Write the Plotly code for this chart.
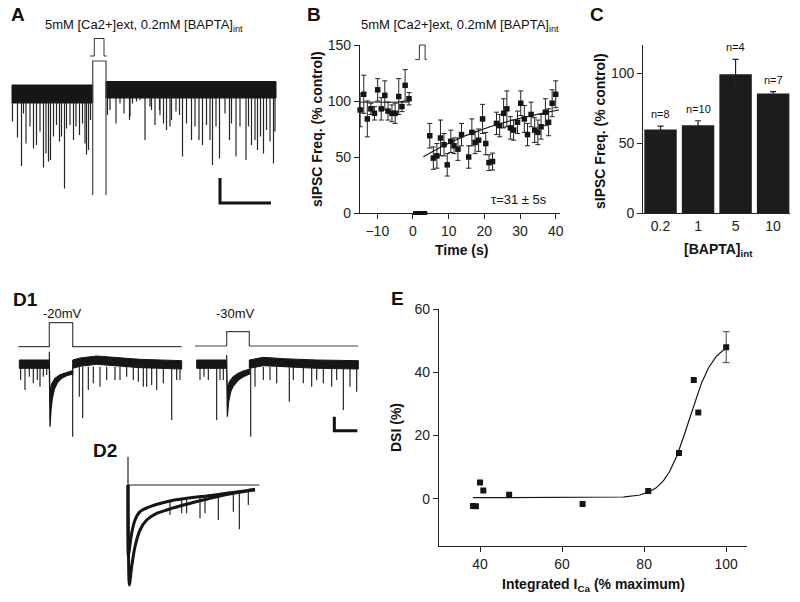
import numpy as np
import plotly.graph_objects as go

W, H = 800, 602
FONT = "Arial, Liberation Sans, sans-serif"
INK = "#151515"

# ---------------- Panel A : sIPSC trace (t in s, I in pA) ----------------
a_left_band_t = [-16.0, 0.14]
a_left_band_i = [10, -26]          # top, bottom of noise band
a_right_band_t = [2.8, 36.8]
a_right_band_i = [17, -16]
a_left_spike_t = [-15.9, -14.9, -14.1, -13.7, -13.2, -12.4, -11.7, -11.1, -10.4, -9.7,
                  -9.2, -8.7, -8.3, -7.7, -7.1, -6.5, -6.1, -5.5, -5.1, -4.4,
                  -3.7, -3.2, -2.5, -1.9, -1.4, -1.1, -0.7, -0.3]
a_left_spike_i = [-63, -95, -152, -47, -107, -73, -117, -110, -83, -155,
                  -127, -143, -140, -93, -70, -103, -93, -197, -77, -70,
                  -100, -73, -90, -67, -107, -129, -120, -60]
a_right_spike_t = [3.1, 3.6, 4.8, 5.6, 6.4, 7.5, 7.6, 8.1, 8.9, 9.6,
                   10.6, 11.6, 11.9, 12.6, 13.5, 13.6, 14.3, 14.9, 15.6, 15.9,
                   16.8, 17.5, 18.1, 18.9, 19.9, 20.6, 21.4, 22.1, 22.9, 23.6,
                   24.1, 24.8, 25.5, 26.6, 27.5, 27.9, 28.8, 29.6, 30.8, 31.3,
                   31.9, 32.6, 33.1, 33.7, 34.3, 34.9, 35.6, 36.3, 36.6]
a_right_spike_i = [-50, -40, -67, -27, -47, -60, -53, -27, -23, -20,
                   -100, -33, -40, -70, -40, -50, -67, -80, -73, -60,
                   -43, -50, -133, -67, -100, -73, -100, -110, -70, -100,
                   -150, -73, -137, -47, -100, -67, -133, -73, -140, -73,
                   -110, -100, -120, -93, -127, -80, -103, -147, -83]
a_gap_t = [0.14, 0.14, 2.8, 2.8]
a_gap_i = [-210, 58, 58, -210]
a_pulse_t = [-0.4, 0.46, 0.46, 2.4, 2.4, 2.94]
a_pulse_i = [68, 68, 103, 103, 68, 68]
a_scale_t = [25.6, 25.6, 35.8]
a_scale_i = [-176, -226, -226]

# ---------------- Panel B : sIPSC frequency vs time ----------------
b_pre_t = [-14.8, -13.8, -12.8, -11.8, -10.8, -9.9, -8.9, -7.9, -7.0, -5.9, -5.0, -4.0, -3.1, -2.2, -1.1]
b_pre_y = [92, 106, 84, 93, 89, 110, 93, 105, 91, 89, 89, 104, 95, 114, 102]
b_pre_err = [15, 17, 16, 5, 6, 10, 10, 13, 8, 7.5, 9, 16, 4.5, 14, 5.5]
b_post_t = [4.7, 5.7, 6.7, 7.7, 8.7, 9.6, 10.6, 11.5, 12.6, 13.6, 15.6, 16.5, 17.4, 18.4,
            19.5, 20.4, 21.3, 22.3, 23.4, 24.3, 25.4, 26.3, 27.3, 28.2, 29.3, 30.2, 31.2,
            32.1, 33.1, 34.1, 35.0, 35.9, 37.1, 38.0, 39.0, 40.0]
b_post_y = [69, 49, 51, 67, 61, 43, 64, 60, 57, 70, 50, 72, 63, 65,
            84, 62, 45, 46, 80, 78, 89, 93, 76, 74, 81, 98, 84,
            70, 88, 74, 72, 77, 90, 81, 98, 106]
b_post_err = [11, 10, 11, 16, 10, 10, 10, 7, 10, 10, 10, 12, 10, 10,
              13, 10, 7, 7.5, 10, 10, 13, 16, 10, 9, 10, 11, 12,
              10, 11, 11, 11, 11, 12, 12, 12, 12]
b_pre_mean = 99
b_fit_tau, b_fit_plateau, b_fit_amp = 31, 109.3, 64.8
b_fit_t = [2.9, 40.9]
b_stim_t = [0, 4]
b_pulse_t = [0.6, 1.8, 1.8, 3.4, 3.4, 3.9]
b_pulse_y = [137, 137, 150, 150, 137, 137]

# ---------------- Panel C : bars ----------------
c_conc = ["0.2", "1", "5", "10"]
c_vals = [59.8, 62.7, 99.2, 85.5]
c_err = [2.4, 3.3, 10.5, 1.3]
c_n = ["n=8", "n=10", "n=4", "n=7"]

# ---------------- Panel D1 : traces (samples, a.u.) ----------------
d1_cmd_l_x = [55, 148, 148, 218, 218, 545]
d1_cmd_l_y = [40, 40, 112, 112, 40, 40]
d1_cmd_r_x = [585, 680, 680, 748, 748, 1075]
d1_cmd_r_y = [42, 42, 85, 85, 42, 42]
d1_pre_l_x = [58, 148]
d1_pre_r_x = [590, 680]
d1_pre_y = [0, -25]
d1_tr_l_top_x = [148, 150, 155, 165, 180, 200, 218]
d1_tr_l_top_y = [-12, -105, -72, -55, -44, -37, -32]
d1_tr_l_bot_x = [148, 150, 153, 157, 163, 172, 185, 200, 218]
d1_tr_l_bot_y = [-25, -200, -150, -115, -88, -68, -55, -47, -42]
d1_tr_r_top_x = [680, 682, 688, 700, 715, 730, 748]
d1_tr_r_top_y = [-12, -90, -65, -50, -40, -33, -28]
d1_tr_r_bot_x = [680, 682, 686, 692, 700, 715, 730, 748]
d1_tr_r_bot_y = [-25, -170, -125, -95, -78, -60, -50, -42]
d1_post_l_x = [218, 240, 290, 350, 420, 545]
d1_post_l_top = [0, 6, 12, 8, 2, -2]
d1_post_l_bot = [-25, -19, -13, -17, -23, -27]
d1_post_r_x = [748, 790, 850, 950, 1075]
d1_post_r_top = [0, 8, 4, 0, -2]
d1_post_r_bot = [-25, -17, -21, -25, -27]
d1_art_l = ([148, 148], [-12, 25])
d1_art_r = ([680, 680], [-12, 15])
d1_spike_x = [62, 75, 88, 100, 112, 120, 130, 140,
              218, 238, 248, 265, 280, 300, 320, 345, 360, 380, 400, 415, 430, 440, 455, 470, 490, 515, 530, 540,
              600, 612, 625, 650, 660, 670,
              752, 765, 790, 810, 830, 868, 880, 910, 935, 950, 970, 995, 1010, 1030, 1050, 1070]
d1_spike_tip = [-60, -90, -50, -70, -60, -80, -50, -45,
                -230, -110, -175, -90, -70, -80, -60, -60, -60, -50, -60, -65, -80, -80, -75, -90, -70, -180, -60, -60,
                -60, -50, -60, -180, -60, -60,
                -230, -80, -60, -60, -70, -125, -60, -70, -80, -60, -70, -80, -60, -150, -80, -95]
d1_scale_x = [1003, 1003, 1072]
d1_scale_y = [-170, -212, -212]

# ---------------- Panel D2 : superimposed decays ----------------
d2_base_x = [383, 778]
d2_base_y = [0, 0]
d2_art_x = [384, 384]
d2_art_y = [85, 0]
d2_fast_x = [384, 385, 390, 395, 405, 420, 450, 500, 560, 620, 680, 740, 765]
d2_fast_y = [0, -215, -180, -145, -105, -80, -65, -50, -40, -33, -25, -17, -13]
d2_slow_x = [384, 388, 395, 405, 420, 440, 470, 500, 550, 600, 650, 700, 740, 765]
d2_slow_y = [0, -300, -245, -185, -135, -105, -85, -75, -60, -47, -35, -25, -18, -15]
d2_spike_x = [510, 545, 560, 600, 615, 655, 700, 718, 745]
d2_spike_top = [-50, -45, -42, -38, -36, -32, -25, -22, -18]
d2_spike_tip = [-90, -85, -85, -100, -85, -105, -80, -133, -60]

# ---------------- Panel E : DSI vs integrated ICa ----------------
e_x = [38.3, 39.0, 40.0, 40.8, 47.1, 65.0, 81.0, 88.5, 92.1, 93.2, 100.0]
e_y = [-2.3, -2.4, 5.1, 2.6, 1.2, -1.7, 2.4, 14.5, 37.6, 27.3, 48.0]
e_err_x = [100.0]
e_err_y = [48.0]
e_err = [4.9]
e_fit = dict(A1=0.3, A2=50.0, x0=91.0, dx=3.0, xmin=38.3, xmax=100.0)


# ---------------- helpers ----------------
def dx(p0, p1):
    return [p0 / W, p1 / W]


def dy(top, bottom):
    return [1 - bottom / H, 1 - top / H]


def spikes(xs, tips, base):
    X, Y = [], []
    bases = base if isinstance(base, list) else [base] * len(xs)
    for x, b, t in zip(xs, bases, tips):
        X += [x, x, None]
        Y += [b, t, None]
    return X, Y


def band(x0x1, topbot):
    return [x0x1[0], x0x1[1], x0x1[1], x0x1[0], x0x1[0]], [topbot[0], topbot[0], topbot[1], topbot[1], topbot[0]]


fig = go.Figure()
SPIKE = dict(color="#262626", width=1.2)

# ---- A ----
X, Y = spikes(a_left_spike_t, a_left_spike_i, a_left_band_i[1])
fig.add_trace(go.Scatter(x=X, y=Y, mode="lines", line=SPIKE, xaxis="x", yaxis="y"))
X, Y = spikes(a_right_spike_t, a_right_spike_i, a_right_band_i[1])
fig.add_trace(go.Scatter(x=X, y=Y, mode="lines", line=SPIKE, xaxis="x", yaxis="y"))
for bt, bi in [(a_left_band_t, a_left_band_i), (a_right_band_t, a_right_band_i)]:
    X, Y = band(bt, bi)
    fig.add_trace(go.Scatter(x=X, y=Y, mode="lines", fill="toself", fillcolor="#161616",
                             line=dict(color="#161616", width=1), xaxis="x", yaxis="y"))
fig.add_trace(go.Scatter(x=a_gap_t, y=a_gap_i, mode="lines", line=dict(color="#444", width=1.2), xaxis="x", yaxis="y"))
fig.add_trace(go.Scatter(x=a_pulse_t, y=a_pulse_i, mode="lines", line=dict(color="#333", width=1), xaxis="x", yaxis="y"))
fig.add_trace(go.Scatter(x=a_scale_t, y=a_scale_i, mode="lines", line=dict(color="#111", width=3), xaxis="x", yaxis="y"))

# ---- B ----
err_style = dict(type="data", thickness=1, width=2.5, color="#222")
fig.add_trace(go.Scatter(x=b_pre_t, y=b_pre_y, mode="markers",
                         marker=dict(symbol="square", size=5.5, color=INK),
                         error_y=dict(array=b_pre_err, **err_style), cliponaxis=False,
                         xaxis="x2", yaxis="y2"))
fig.add_trace(go.Scatter(x=b_post_t, y=b_post_y, mode="markers",
                         marker=dict(symbol="square", size=5.5, color=INK),
                         error_y=dict(array=b_post_err, **err_style), cliponaxis=False,
                         xaxis="x2", yaxis="y2"))
fig.add_trace(go.Scatter(x=[b_pre_t[0], b_pre_t[-1]], y=[b_pre_mean, b_pre_mean], mode="lines",
                         line=dict(color=INK, width=1), xaxis="x2", yaxis="y2"))
tf = np.linspace(b_fit_t[0], b_fit_t[1], 60)
fig.add_trace(go.Scatter(x=tf, y=b_fit_plateau - b_fit_amp * np.exp(-tf / b_fit_tau), mode="lines",
                         line=dict(color=INK, width=1.1), xaxis="x2", yaxis="y2"))
# overlay (same scale, taller box) for stimulus marks
fig.add_trace(go.Scatter(x=b_stim_t, y=[0, 0], mode="lines", line=dict(color="#111", width=4),
                         xaxis="x3", yaxis="y3"))
fig.add_trace(go.Scatter(x=b_pulse_t, y=b_pulse_y, mode="lines", line=dict(color="#333", width=1),
                         xaxis="x3", yaxis="y3"))

# ---- C ----
c_pos = list(range(len(c_conc)))
fig.add_trace(go.Bar(x=c_pos, y=c_vals, width=0.864, marker=dict(color="#1c1c1c", line=dict(width=0)),
                     error_y=dict(type="data", array=c_err, thickness=1.2, width=3, color="#222"),
                     xaxis="x4", yaxis="y4"))

# ---- D1 ----
for cx, cy in [(d1_cmd_l_x, d1_cmd_l_y), (d1_cmd_r_x, d1_cmd_r_y)]:
    fig.add_trace(go.Scatter(x=cx, y=cy, mode="lines", line=dict(color="#444", width=1.2), xaxis="x5", yaxis="y5"))
X, Y = spikes(d1_spike_x, d1_spike_tip, -20)
fig.add_trace(go.Scatter(x=X, y=Y, mode="lines", line=SPIKE, xaxis="x5", yaxis="y5"))
for px_ in [d1_pre_l_x, d1_pre_r_x]:
    X, Y = band(px_, d1_pre_y)
    fig.add_trace(go.Scatter(x=X, y=Y, mode="lines", fill="toself", fillcolor="#161616",
                             line=dict(color="#161616", width=1), xaxis="x5", yaxis="y5"))
for tx, ty, bx, by in [(d1_tr_l_top_x, d1_tr_l_top_y, d1_tr_l_bot_x, d1_tr_l_bot_y),
                       (d1_tr_r_top_x, d1_tr_r_top_y, d1_tr_r_bot_x, d1_tr_r_bot_y)]:
    fig.add_trace(go.Scatter(x=tx + bx[::-1] + [tx[0]], y=ty + by[::-1] + [ty[0]], mode="lines", fill="toself",
                             fillcolor="#161616", line=dict(color="#161616", width=1.2), xaxis="x5", yaxis="y5"))
for px_, tp, bt in [(d1_post_l_x, d1_post_l_top, d1_post_l_bot), (d1_post_r_x, d1_post_r_top, d1_post_r_bot)]:
    fig.add_trace(go.Scatter(x=px_ + px_[::-1] + [px_[0]], y=tp + bt[::-1] + [tp[0]], mode="lines", fill="toself",
                             fillcolor="#161616", line=dict(color="#161616", width=1), xaxis="x5", yaxis="y5"))
for ax_, ay_ in [d1_art_l, d1_art_r]:
    fig.add_trace(go.Scatter(x=ax_, y=ay_, mode="lines", line=dict(color="#222", width=1.2), xaxis="x5", yaxis="y5"))
fig.add_trace(go.Scatter(x=d1_scale_x, y=d1_scale_y, mode="lines", line=dict(color="#111", width=3), xaxis="x5", yaxis="y5"))

# ---- D2 ----
fig.add_trace(go.Scatter(x=d2_base_x, y=d2_base_y, mode="lines", line=dict(color="#222", width=1.2), xaxis="x6", yaxis="y6"))
fig.add_trace(go.Scatter(x=d2_art_x, y=d2_art_y, mode="lines", line=dict(color="#222", width=1.2), xaxis="x6", yaxis="y6"))
X, Y = spikes(d2_spike_x, d2_spike_tip, d2_spike_top)
fig.add_trace(go.Scatter(x=X, y=Y, mode="lines", line=SPIKE, xaxis="x6", yaxis="y6"))
for sx, sy in [(d2_fast_x, d2_fast_y), (d2_slow_x, d2_slow_y)]:
    fig.add_trace(go.Scatter(x=sx, y=sy, mode="lines", line=dict(color="#151515", width=3, shape="spline", smoothing=0.6),
                             xaxis="x6", yaxis="y6"))

# ---- E ----
xf = np.linspace(e_fit["xmin"], e_fit["xmax"], 200)
yf = e_fit["A1"] + (e_fit["A2"] - e_fit["A1"]) / (1 + np.exp((e_fit["x0"] - xf) / e_fit["dx"]))
fig.add_trace(go.Scatter(x=xf, y=yf, mode="lines", line=dict(color=INK, width=1.2), xaxis="x7", yaxis="y7"))
fig.add_trace(go.Scatter(x=e_err_x, y=e_err_y, mode="markers", marker=dict(size=1, color="rgba(0,0,0,0)"),
                         error_y=dict(type="data", array=e_err, thickness=1, width=3.5, color="#444"),
                         xaxis="x7", yaxis="y7"))
fig.add_trace(go.Scatter(x=e_x, y=e_y, mode="markers", marker=dict(symbol="square", size=6, color=INK),
                         xaxis="x7", yaxis="y7"))

# ---------------- axes ----------------
tickfont = dict(family=FONT, size=14, color="#222")
real_ax = dict(showline=True, linecolor="#222", linewidth=1.3, ticks="outside", ticklen=5, tickwidth=1.3,
               tickcolor="#222", showgrid=False, zeroline=False, tickfont=tickfont, fixedrange=True,
               automargin=False)
hidden = dict(visible=False, showgrid=False, zeroline=False, fixedrange=True, automargin=False)

B_x = (360, 560)
B_xr = [-14.85, 41.2]
layout_axes = dict(
    xaxis=dict(domain=dx(0, 300), range=[-18.4, 41.6], anchor="y", **hidden),
    yaxis=dict(domain=dy(30, 215), range=[-250, 120], anchor="x", **hidden),
    xaxis2=dict(domain=dx(*B_x), range=B_xr, anchor="y2", tickvals=[-10, 0, 10, 20, 30, 40], **real_ax),
    yaxis2=dict(domain=dy(45, 213), range=[0, 150], anchor="x2", tickvals=[0, 50, 100, 150], **real_ax),
    xaxis3=dict(domain=dx(*B_x), range=B_xr, anchor="y3", **hidden),
    yaxis3=dict(domain=dy(30, 225), range=[-(225 - 213) / 1.12, (213 - 30) / 1.12], anchor="x3", **hidden),
    xaxis4=dict(domain=dx(643.3, 790), range=[-0.459, 3.45], anchor="y4", tickvals=c_pos, ticktext=c_conc,
                **{**real_ax, "ticks": ""}),
    yaxis4=dict(domain=dy(45, 213.3), range=[0, 120], anchor="x4", tickvals=[0, 50, 100], **real_ax),
    xaxis5=dict(domain=dx(0, 380), range=[0, 1140], anchor="y5", **hidden),
    yaxis5=dict(domain=dy(290, 450), range=[-270, 210], anchor="x5", **hidden),
    xaxis6=dict(domain=dx(100, 280), range=[300, 840], anchor="y6", **hidden),
    yaxis6=dict(domain=dy(440, 600), range=[-345, 135], anchor="x6", **hidden),
    xaxis7=dict(domain=dx(439, 746.7), range=[30, 105], anchor="y7", tickvals=[40, 60, 80, 100], **real_ax),
    yaxis7=dict(domain=dy(309.3, 546), range=[-15, 60], anchor="x7", tickvals=[0, 20, 40, 60], **real_ax),
)


# ---------------- text ----------------
def ann(text, px, py, size=13, bold=False, angle=0, xanchor="center"):
    t = f"<b>{text}</b>" if bold else text
    return dict(text=t, x=px / W, y=1 - py / H, xref="paper", yref="paper", showarrow=False,
                xanchor=xanchor, yanchor="middle", textangle=angle,
                font=dict(family=FONT, size=size, color="#111"))


title_txt = "5mM [Ca2+]ext, 0.2mM [BAPTA]<sub>int</sub>"
annotations = [
    ann("A", 18, 15, 19, True), ann("B", 314, 15, 19, True), ann("C", 597, 15, 19, True),
    ann("D1", 25, 299, 19, True), ann("D2", 105, 450, 19, True), ann("E", 397, 298, 19, True),
    ann(title_txt, 144, 26, 13), ann(title_txt, 460, 26, 13),
    ann("-20mV", 62, 313, 13), ann("-30mV", 235, 313, 13),
    ann("\u03c4=31 \u00b1 5s", 519, 200, 13),
    ann("sIPSC Freq. (% control)", 317, 129, 14, True, -90),
    ann("Time (s)", 461, 250, 14, True),
    ann("sIPSC Freq. (% control)", 600, 131, 14, True, -90),
    ann("[BAPTA]<sub>int</sub>", 718, 250, 14, True),
    ann("DSI (%)", 396, 428, 14, True, -90),
    ann("Integrated I<sub>Ca</sub> (% maximum)", 593, 585, 14, True),
]
for pos, v, e, n in zip(c_pos, c_vals, c_err, c_n):
    annotations.append(dict(text=n, x=pos, y=v + e, xref="x4", yref="y4", showarrow=False, yanchor="bottom",
                            yshift=4, font=dict(family=FONT, size=11, color="#111")))

fig.update_layout(template="none", width=W, height=H, autosize=False,
                  margin=dict(l=0, r=0, t=0, b=0, pad=0, autoexpand=False), showlegend=False,
                  paper_bgcolor="white", plot_bgcolor="rgba(0,0,0,0)", annotations=annotations,
                  font=dict(family=FONT), **layout_axes)

fig.write_html("out.html", config={"displayModeBar": False},
               post_script="document.body.style.margin='0';document.body.style.padding='0';"
                           "document.documentElement.style.overflow='hidden';")
